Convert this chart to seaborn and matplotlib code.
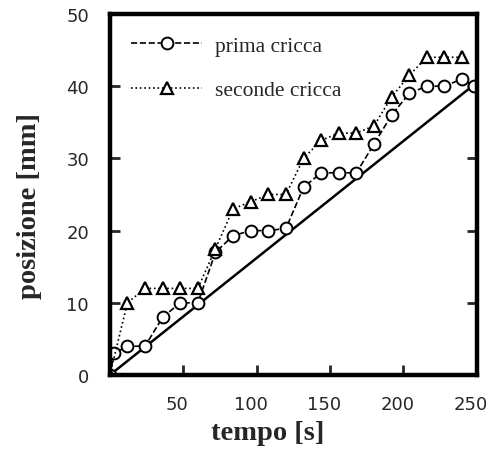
import matplotlib
matplotlib.use("Agg")
import matplotlib.pyplot as plt
import matplotlib.transforms as mtransforms
import seaborn as sns
import pandas as pd

# ---- data ----
tempo_prima = [0, 3, 12, 24, 36, 48, 60, 72, 84, 96, 108, 120, 132, 144, 156, 168, 180, 192, 204, 216, 228, 240, 248]
pos_prima = [0, 3, 4, 4, 8, 10, 10, 17, 19.3, 20, 20, 20.3, 26, 28, 28, 28, 32, 36, 39, 40, 40, 41, 40]

tempo_seconde = [0, 12, 24, 36, 48, 60, 72, 84, 96, 108, 120, 132, 144, 156, 168, 180, 192, 204, 216, 228, 240]
pos_seconde = [0, 10, 12, 12, 12, 12, 17.5, 23, 24, 25, 25, 30, 32.5, 33.5, 33.5, 34.5, 38.5, 41.5, 44, 44, 44]

tempo_rif = [0, 250]
pos_rif = [0, 40.5]

label_prima = "prima cricca"
label_seconde = "seconde cricca"
xticks = [50, 100, 150, 200, 250]
yticks = [0, 10, 20, 30, 40, 50]

df_prima = pd.DataFrame({"tempo": tempo_prima, "pos": pos_prima})
df_sec = pd.DataFrame({"tempo": tempo_seconde, "pos": pos_seconde})
df_rif = pd.DataFrame({"tempo": tempo_rif, "pos": pos_rif})

sns.set_style("ticks")
plt.rcParams["font.family"] = ["DejaVu Sans"]

fig = plt.figure(figsize=(4.88, 4.52), dpi=100)
ax = fig.add_axes([0.225, 0.168, 0.752, 0.799])

sns.lineplot(data=df_rif, x="tempo", y="pos", ax=ax, color="black", linewidth=1.8,
             legend=False, label="_nolegend_")
sns.lineplot(data=df_prima, x="tempo", y="pos", ax=ax, color="black", linewidth=1.2,
             linestyle="--", marker="o", markersize=8.5, markerfacecolor="white",
             markeredgecolor="black", markeredgewidth=1.4, label=label_prima)
sns.lineplot(data=df_sec, x="tempo", y="pos", ax=ax, color="black", linewidth=1.2,
             linestyle=":", marker="^", markersize=8.5, markerfacecolor="white",
             markeredgecolor="black", markeredgewidth=1.6, label=label_seconde)

ax.set_xlim(0, 250)
ax.set_ylim(0, 50)
ax.set_xticks(xticks)
ax.set_yticks(yticks)
ax.tick_params(direction="in", length=7, width=2, labelsize=13,
               right=True, top=False)
ax.tick_params(axis="x", pad=14)
ax.tick_params(axis="y", pad=15)
offset = mtransforms.ScaledTranslation(-6 / 100, 0, fig.dpi_scale_trans)
for lbl in ax.get_xticklabels():
    lbl.set_transform(lbl.get_transform() + offset)
for s in ax.spines.values():
    s.set_linewidth(3.2)
    s.set_color("black")
    s.set_visible(True)

ax.set_xlabel("tempo [s]", family=["Liberation Serif"], fontweight="bold", fontsize=20.5)
ax.set_ylabel("posizione [mm]", family=["Liberation Serif"], fontweight="bold", fontsize=20.5)
ax.xaxis.set_label_coords(0.43, -0.125)
ax.yaxis.set_label_coords(-0.185, 0.47)

leg = ax.legend(loc="upper left", frameon=False, prop={"family": "Liberation Serif", "size": 15.5},
                handlelength=3.3, labelspacing=1.15, handletextpad=0.6,
                borderaxespad=0.6)

fig.savefig("out.png", dpi=100)
